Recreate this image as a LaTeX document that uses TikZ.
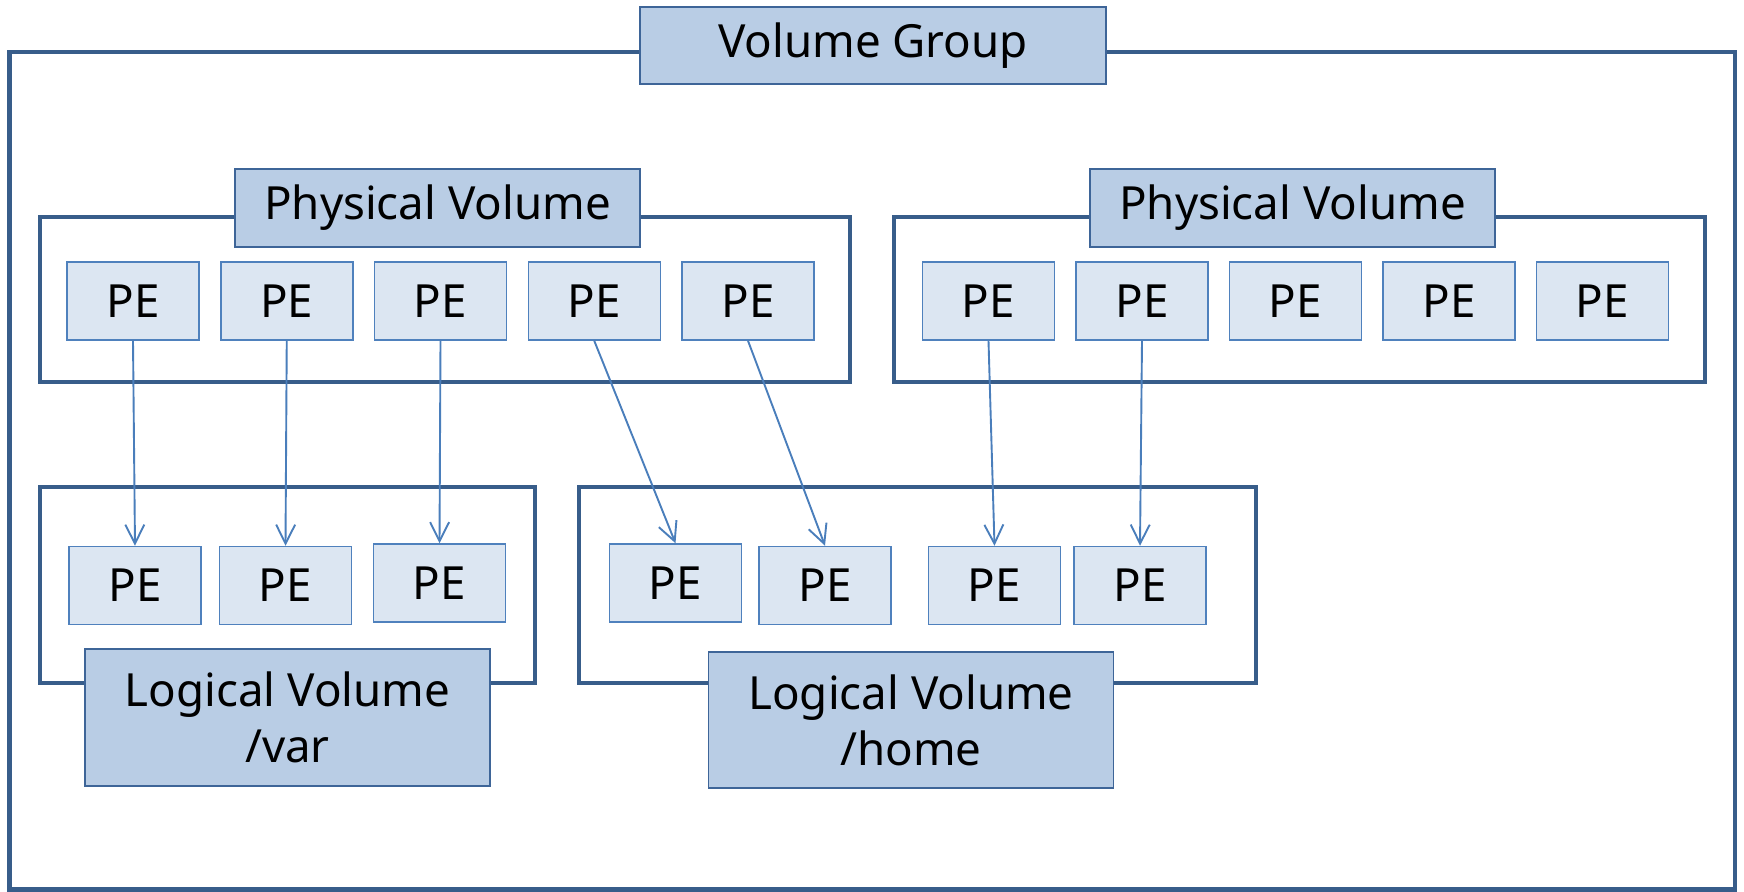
\documentclass[tikz,border=0pt]{standalone}
\usepackage{fontspec}
\setmainfont{Noto Sans}
\usepackage{tikz}
\usetikzlibrary{positioning,arrows.meta}

\definecolor{FrameBlue}{HTML}{385D8A}
\definecolor{EdgeBlue}{HTML}{4F81BD}
\definecolor{LabelEdge}{HTML}{3E6598}
\definecolor{PeFill}{HTML}{DCE6F2}
\definecolor{LabelFill}{HTML}{B9CDE5}
\definecolor{MapBlue}{HTML}{4A7EBB}

\begin{document}
\begin{tikzpicture}[x=0.2mm, y=-0.2mm,
    every node/.style={inner sep=0pt, font=\fontsize{26pt}{32pt}\selectfont},
    frame/.style={draw=FrameBlue, line width=0.9mm, line join=miter},
    pe/.style={draw=EdgeBlue, line width=0.3mm, fill=PeFill,
        minimum width=26.4mm, minimum height=15.6mm},
    label/.style={draw=LabelEdge, line width=0.3mm, fill=LabelFill,
        minimum width=81mm, minimum height=15.6mm, align=center},
    map/.style={draw=MapBlue, line width=0.38mm,
        -{Straight Barb[length=3.8mm, width=3.8mm]}}]

    \useasboundingbox (0,0) rectangle (1744,892);

    % frames
    \draw[frame] (9.5,52) rectangle (1735,889.5);
    \draw[frame] (40,217) rectangle (850,382);
    \draw[frame] (894,217) rectangle (1705,382);
    \draw[frame] (40,487) rectangle (535,683);
    \draw[frame] (579,487) rectangle (1256,683);

    % titles
    \node[label, minimum width=93.2mm, minimum height=15.4mm
    ](group) at (873,45.5) {Volume Group};
    \node[label](pvA) at (437.5,208) {Physical Volume};
    \node[label](pvB) at (1292.5,208) {Physical Volume};
    \node[label, minimum height=27.4mm
    ](lvVar) at (287.5,717.5) {Logical Volume\\/var};
    \node[label, minimum height=27.2mm
    ](lvHome) at (911,720) {Logical Volume\\/home};

    % extents of the physical volumes
    \foreach \i in {1,...,5} {
        \node[pe](peA\i) at ({133+153.75*(\i-1)},301) {PE};
        \node[pe](peB\i) at ({988.5+153.5*(\i-1)},301) {PE};
    }

    % extents of the logical volumes
    \node[pe](var1) at (135,585.5) {PE};
    \node[pe](var2) at (285.5,585.5) {PE};
    \node[pe](var3) at (439.5,583) {PE};
    \node[pe](home1) at (675.5,583) {PE};
    \node[pe](home2) at (825,585.5) {PE};
    \node[pe](home3) at (994.5,585.5) {PE};
    \node[pe](home4) at (1140,585.5) {PE};

    \draw[map] (peA1.south) -- (var1.north);
    \draw[map] (peA2.south) -- (var2.north);
    \draw[map] (peA3.south) -- (var3.north);
    \draw[map] (peA4.south) -- (home1.north);
    \draw[map] (peA5.south) -- (home2.north);
    \draw[map] (peB1.south) -- (home3.north);
    \draw[map] (peB2.south) -- (home4.north);
\end{tikzpicture}
\end{document}
